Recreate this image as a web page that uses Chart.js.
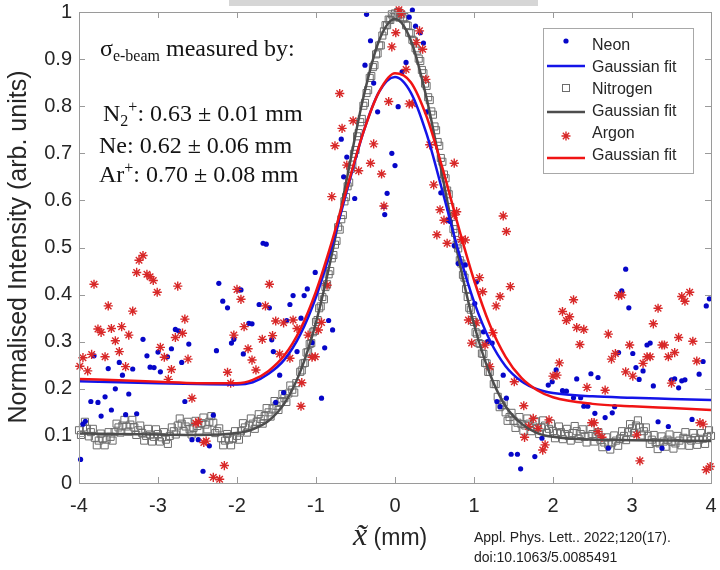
<!DOCTYPE html>
<html>
<head>
<meta charset="utf-8">
<script src="https://cdn.jsdelivr.net/npm/chart.js@4.4.1/dist/chart.umd.min.js"></script>
<style>
  html, body { margin: 0; padding: 0; background: #fff; }
  #wrap { position: relative; width: 720px; height: 570px; overflow: hidden; }
  #chart { position: absolute; left: 0; top: 0; }
  .topbar { position: absolute; left: 229px; top: 0; width: 309px; height: 6px; background: #d6d6d6; }
  .serif { position: absolute; font-family: "Liberation Serif", "Times New Roman", serif; font-size: 24px; line-height: 26px; color: #141414; white-space: nowrap; }
  .serif sub, .serif sup { font-size: 16px; line-height: 0; }
  .serif sub { vertical-align: -5px; }
  .serif sup { vertical-align: 9px; }
  .ytitle { position: absolute; left: -183px; top: 233px; width: 400px; height: 28px; line-height: 28px; text-align: center;
            font-family: "Liberation Sans", Arial, sans-serif; font-size: 25px; color: #262626; transform: rotate(-90deg); white-space: nowrap; }
  .xtitle { position: absolute; left: 353px; top: 516px; font-family: "Liberation Sans", Arial, sans-serif; font-size: 23px; color: #262626; white-space: nowrap; }
  .xtitle i { font-family: "Liberation Serif", "Times New Roman", serif; font-size: 32px; }
  .cite { position: absolute; left: 474px; top: 527px; font-family: "Liberation Sans", Arial, sans-serif; font-size: 14px; line-height: 20px; color: #222; white-space: nowrap; }
</style>
</head>
<body>
<div id="wrap">
  <canvas id="chart" width="720" height="570"></canvas>
  <div class="topbar"></div>
  <div class="serif" style="left:100px; top:35px;">&sigma;<sub>e-beam</sub> measured by:</div>
  <div class="serif" style="left:103px; top:100px;">N<sub>2</sub><sup>+</sup>: 0.63 &plusmn; 0.01 mm</div>
  <div class="serif" style="left:99px; top:132px;">Ne: 0.62 &plusmn; 0.06 mm</div>
  <div class="serif" style="left:99px; top:161px;">Ar<sup>+</sup>: 0.70 &plusmn; 0.08 mm</div>
  <div class="ytitle">Normalised Intensity (arb. units)</div>
  <div class="xtitle"><i>x&#771;</i> (mm)</div>
  <div class="cite">Appl. Phys. Lett.. 2022;120(17).<br>doi:10.1063/5.0085491</div>
</div>
<script>
  // ---- axis ticks ----
  const xTicks = [-4, -3, -2, -1, 0, 1, 2, 3, 4];
  const xTickLabels = ['-4', '-3', '-2', '-1', '0', '1', '2', '3', '4'];
  const yTicks = [0, 0.1, 0.2, 0.3, 0.4, 0.5, 0.6, 0.7, 0.8, 0.9, 1];
  const yTickLabels = ['0', '0.1', '0.2', '0.3', '0.4', '0.5', '0.6', '0.7', '0.8', '0.9', '1'];

  // ---- Neon (blue dots) ----
  const neonX = [
    -3.98, -3.95, -3.92, -3.85, -3.81, -3.76, -3.72, -3.67, -3.63, -3.59,
    -3.54, -3.49, -3.45, -3.41, -3.37, -3.32, -3.27, -3.19, -3.14, -3.10,
    -3.05, -3.00, -2.97, -2.88, -2.83, -2.78, -2.74, -2.70, -2.66, -2.61,
    -2.57, -2.49, -2.43, -2.35, -2.30, -2.26, -2.23, -2.18, -2.12, -2.07,
    -2.04, -1.98, -1.95, -1.92, -1.85, -1.81, -1.72, -1.67, -1.63, -1.59,
    -1.56, -1.54, -1.51, -1.46, -1.41, -1.37, -1.33, -1.29, -1.24, -1.19,
    -1.15, -1.11, -1.05, -1.01, -0.93, -0.89, -0.84, -0.79, -0.68, -0.65,
    -0.61, -0.51, -0.38, -0.36, -0.31, -0.27, -0.22, -0.14, -0.13, -0.10,
    -0.04, 0.00, 0.04, 0.09, 0.14, 0.18, 0.22, 0.26, 0.32, 0.36,
    0.40, 0.58, 0.66, 0.70, 0.75, 0.80, 0.89, 1.01, 1.03, 1.12,
    1.17, 1.23, 1.29, 1.33, 1.37, 1.41, 1.47, 1.55, 1.59, 1.77,
    1.86, 1.94, 1.99, 2.04, 2.12, 2.17, 2.26, 2.30, 2.35, 2.39,
    2.44, 2.48, 2.53, 2.57, 2.66, 2.70, 2.75, 2.78, 2.83, 2.87,
    2.92, 2.96, 3.01, 3.05, 3.09, 3.14, 3.19, 3.23, 3.27, 3.33,
    3.38, 3.46, 3.50, 3.54, 3.59, 3.63, 3.67, 3.76, 3.85, 3.90,
    3.94, 3.98
  ];
  const neonY = [
    0.050, 0.125, 0.131, 0.173, 0.270, 0.171, 0.142, 0.183, 0.243, 0.155,
    0.200, 0.256, 0.229, 0.145, 0.189, 0.242, 0.147, 0.305, 0.270, 0.246,
    0.245, 0.278, 0.236, 0.268, 0.285, 0.326, 0.323, 0.256, 0.173, 0.295,
    0.092, 0.092, 0.025, 0.079, 0.144, 0.281, 0.424, 0.386, 0.372, 0.297,
    0.305, 0.410, 0.410, 0.274, 0.339, 0.338, 0.379, 0.509, 0.507, 0.372,
    0.304, 0.279, 0.171, 0.229, 0.192, 0.345, 0.379, 0.398, 0.279, 0.350,
    0.398, 0.412, 0.298, 0.447, 0.180, 0.287, 0.345, 0.325, 0.730, 0.650,
    0.692, 0.604, 0.887, 0.995, 0.939, 0.849, 0.788, 0.587, 0.570, 0.615,
    0.700, 0.674, 0.799, 0.873, 0.893, 0.989, 1.004, 0.970, 0.956, 0.934,
    0.788, 0.616, 0.558, 0.555, 0.504, 0.466, 0.463, 0.381, 0.427, 0.321,
    0.300, 0.297, 0.173, 0.162, 0.229, 0.180, 0.061, 0.061, 0.030, 0.056,
    0.095, 0.208, 0.215, 0.240, 0.196, 0.195, 0.181, 0.221, 0.181, 0.163,
    0.163, 0.232, 0.148, 0.224, 0.139, 0.074, 0.149, 0.162, 0.277, 0.408,
    0.454, 0.372, 0.275, 0.245, 0.220, 0.238, 0.293, 0.297, 0.206, 0.130,
    0.074, 0.120, 0.219, 0.221, 0.202, 0.217, 0.219, 0.135, 0.231, 0.258,
    0.376, 0.391
  ];

  // ---- Nitrogen (grey squares) ----
  const nitrogenX = [
    -4.00, -3.95, -3.90, -3.85, -3.80, -3.75, -3.70, -3.65, -3.60, -3.55,
    -3.50, -3.45, -3.40, -3.35, -3.30, -3.25, -3.20, -3.15, -3.10, -3.05,
    -3.00, -2.95, -2.90, -2.85, -2.80, -2.75, -2.70, -2.65, -2.60, -2.55,
    -2.50, -2.45, -2.40, -2.35, -2.30, -2.25, -2.20, -2.15, -2.10, -2.05,
    -2.00, -1.95, -1.90, -1.85, -1.80, -1.75, -1.70, -1.65, -1.60, -1.55,
    -1.50, -1.45, -1.40, -1.35, -1.30, -1.25,
    -1.20, -1.18, -1.16, -1.14, -1.12, -1.10, -1.08, -1.06, -1.04, -1.02,
    -1.00, -0.98, -0.96, -0.94, -0.92, -0.90, -0.88, -0.86, -0.84, -0.82,
    -0.80, -0.78, -0.76, -0.74, -0.72, -0.70, -0.68, -0.66, -0.64, -0.62,
    -0.60, -0.58, -0.56, -0.54, -0.52, -0.50, -0.48, -0.46, -0.44, -0.42,
    -0.40, -0.38, -0.36, -0.34, -0.32, -0.30, -0.28, -0.26, -0.24, -0.22,
    -0.20, -0.18, -0.16, -0.14, -0.12, -0.10, -0.08, -0.06, -0.04, -0.02,
    0.00, 0.02, 0.04, 0.06, 0.08, 0.10, 0.12, 0.14, 0.16, 0.18,
    0.20, 0.22, 0.24, 0.26, 0.28, 0.30, 0.32, 0.34, 0.36, 0.38,
    0.40, 0.42, 0.44, 0.46, 0.48, 0.50, 0.52, 0.54, 0.56, 0.58,
    0.60, 0.62, 0.64, 0.66, 0.68, 0.70, 0.72, 0.74, 0.76, 0.78,
    0.80, 0.82, 0.84, 0.86, 0.88, 0.90, 0.92, 0.94, 0.96, 0.98,
    1.00, 1.02, 1.04, 1.06, 1.08, 1.10, 1.12, 1.14, 1.16, 1.18,
    1.20,
    1.25, 1.30, 1.35, 1.40, 1.45,
    1.50, 1.55, 1.60, 1.65, 1.70, 1.75, 1.80, 1.85, 1.90, 1.95,
    2.00, 2.05, 2.10, 2.15, 2.20, 2.25, 2.30, 2.35, 2.40, 2.45,
    2.50, 2.55, 2.60, 2.65, 2.70, 2.75, 2.80, 2.85, 2.90, 2.95,
    3.00, 3.05, 3.10, 3.15, 3.20, 3.25, 3.30, 3.35, 3.40, 3.45,
    3.50, 3.55, 3.60, 3.65, 3.70, 3.75, 3.80, 3.85, 3.90, 3.95,
    4.00,
    // in-between samples of the wings (the band is two squares thick there)
    -3.975, -3.925, -3.875, -3.825, -3.775, -3.725, -3.675, -3.625, -3.575, -3.525,
    -3.475, -3.425, -3.375, -3.325, -3.275, -3.225, -3.175, -3.125, -3.075, -3.025,
    -2.975, -2.925, -2.875, -2.825, -2.775, -2.725, -2.675, -2.625, -2.575, -2.525,
    -2.475, -2.425, -2.375, -2.325, -2.275, -2.225, -2.175, -2.125, -2.075, -2.025,
    -1.975, -1.925, -1.875, -1.825, -1.775, -1.725, -1.675, -1.625, -1.575, -1.525,
    -1.475, -1.425, -1.375, -1.325, -1.275,
    1.275, 1.325, 1.375, 1.425, 1.475, 1.525, 1.575, 1.625, 1.675, 1.725,
    1.775, 1.825, 1.875, 1.925, 1.975, 2.025, 2.075, 2.125, 2.175, 2.225,
    2.275, 2.325, 2.375, 2.425, 2.475, 2.525, 2.575, 2.625, 2.675, 2.725,
    2.775, 2.825, 2.875, 2.925, 2.975, 3.025, 3.075, 3.125, 3.175, 3.225,
    3.275, 3.325, 3.375, 3.425, 3.475, 3.525, 3.575, 3.625, 3.675, 3.725,
    3.775, 3.825, 3.875, 3.925, 3.975
  ];
  const nitrogenY = [
    0.112, 0.118, 0.115, 0.108, 0.096, 0.090, 0.094, 0.092, 0.098, 0.108,
    0.118, 0.122, 0.120, 0.124, 0.118, 0.112, 0.106, 0.100, 0.103, 0.098,
    0.104, 0.097, 0.092, 0.100, 0.110, 0.122, 0.126, 0.120, 0.114, 0.117,
    0.121, 0.127, 0.124, 0.130, 0.128, 0.110, 0.095, 0.090, 0.092, 0.094,
    0.100, 0.110, 0.118, 0.122, 0.126, 0.130, 0.136, 0.142, 0.150, 0.158,
    0.164, 0.172, 0.180, 0.190, 0.198, 0.212,
    0.236, 0.239, 0.254, 0.255, 0.277, 0.278, 0.295, 0.297, 0.320, 0.323,
    0.342, 0.346, 0.371, 0.375, 0.395, 0.390, 0.416, 0.422, 0.443, 0.450,
    0.477, 0.484, 0.506, 0.514, 0.543, 0.538, 0.560, 0.569, 0.598, 0.607,
    0.630, 0.638, 0.667, 0.676, 0.699, 0.707, 0.736, 0.743, 0.766, 0.773,
    0.801, 0.807, 0.828, 0.834, 0.860, 0.864, 0.883, 0.887, 0.910, 0.912,
    0.929, 0.929, 0.950, 0.959, 0.972, 0.972, 0.984, 0.983, 0.995, 0.989,
    0.997, 0.992, 1.000, 0.988, 0.995, 0.986, 0.989, 0.972, 0.971, 0.956,
    0.955, 0.941, 0.938, 0.923, 0.918, 0.901, 0.896, 0.877, 0.870, 0.848,
    0.843, 0.819, 0.813, 0.789, 0.782, 0.757, 0.749, 0.724, 0.716, 0.690,
    0.682, 0.655, 0.647, 0.621, 0.613, 0.586, 0.565, 0.539, 0.531, 0.506,
    0.498, 0.473, 0.466, 0.442, 0.436, 0.412, 0.395, 0.372, 0.368, 0.346,
    0.342, 0.320, 0.317, 0.297, 0.295, 0.275, 0.274, 0.255, 0.254, 0.236,
    0.236,
    0.210, 0.183, 0.165, 0.150, 0.140,
    0.132, 0.128, 0.125, 0.122, 0.126, 0.120, 0.116, 0.118, 0.122, 0.115,
    0.110, 0.106, 0.108, 0.104, 0.100, 0.106, 0.110, 0.104, 0.098, 0.100,
    0.104, 0.098, 0.092, 0.086, 0.082, 0.086, 0.090, 0.094, 0.100, 0.108,
    0.116, 0.122, 0.118, 0.110, 0.100, 0.092, 0.086, 0.084, 0.088, 0.092,
    0.088, 0.084, 0.090, 0.096, 0.094, 0.090, 0.096, 0.092, 0.094, 0.098,
    0.100,
    0.102, 0.130, 0.099, 0.115, 0.080, 0.105, 0.080, 0.108, 0.090, 0.126,
    0.107, 0.134, 0.109, 0.134, 0.102, 0.122, 0.090, 0.115, 0.088, 0.114,
    0.088, 0.108, 0.083, 0.118, 0.103, 0.137, 0.110, 0.130, 0.103, 0.132,
    0.111, 0.139, 0.114, 0.142, 0.106, 0.116, 0.080, 0.104, 0.080, 0.110,
    0.092, 0.127, 0.107, 0.137, 0.115, 0.146, 0.126, 0.159, 0.141, 0.174,
    0.155, 0.189, 0.172, 0.207, 0.192,
    0.210, 0.161, 0.171, 0.132, 0.149, 0.117, 0.140, 0.111, 0.137, 0.110,
    0.131, 0.104, 0.133, 0.106, 0.126, 0.095, 0.120, 0.093, 0.115, 0.090,
    0.121, 0.094, 0.114, 0.086, 0.115, 0.088, 0.108, 0.076, 0.097, 0.071,
    0.101, 0.079, 0.110, 0.091, 0.125, 0.106, 0.133, 0.101, 0.118, 0.083,
    0.102, 0.072, 0.099, 0.077, 0.103, 0.073, 0.100, 0.080, 0.108, 0.079,
    0.106, 0.081, 0.106, 0.083, 0.112
  ];

  // ---- Argon (red asterisks) ----
  const argonX = [
    -3.99, -3.95, -3.89, -3.84, -3.81, -3.76, -3.72, -3.67, -3.63, -3.59,
    -3.54, -3.49, -3.46, -3.41, -3.37, -3.32, -3.27, -3.24, -3.19, -3.14,
    -3.10, -3.06, -3.01, -2.97, -2.92, -2.87, -2.83, -2.78, -2.75, -2.69,
    -2.66, -2.62, -2.57, -2.52, -2.49, -2.42, -2.39, -2.30, -2.22, -2.16,
    -2.12, -2.08, -2.04, -2.00, -1.95, -1.91, -1.86, -1.81, -1.76, -1.68,
    -1.64, -1.59, -1.55, -1.51, -1.46, -1.41, -1.33, -1.29, -1.24, -1.19,
    -1.18, -1.10, -1.05, -1.01, -0.97, -0.93, -0.86, -0.80, -0.76, -0.70,
    -0.67, -0.61, -0.53, -0.46, -0.31, -0.27, -0.17, -0.14, -0.08, -0.04,
    0.01, 0.05, 0.08, 0.14, 0.18, 0.22, 0.27, 0.31, 0.35, 0.39,
    0.44, 0.49, 0.53, 0.57, 0.62, 0.66, 0.75, 0.75, 0.78, 0.84,
    0.89, 0.93, 0.97, 1.03, 1.07, 1.11, 1.14, 1.20, 1.24, 1.28,
    1.33, 1.37, 1.41, 1.46, 1.51, 1.63, 1.64, 1.69, 1.75, 1.81,
    1.87, 1.90, 1.95, 2.00, 2.05, 2.08, 2.12, 2.17, 2.21, 2.26,
    2.30, 2.34, 2.39, 2.43, 2.49, 2.52, 2.57, 2.62, 2.66, 2.70,
    2.74, 2.79, 2.83, 2.87, 2.92, 2.97, 3.01, 3.06, 3.10, 3.14,
    3.19, 3.23, 3.27, 3.33, 3.38, 3.41, 3.46, 3.50, 3.54, 3.59,
    3.63, 3.67, 3.73, 3.77, 3.82, 3.86, 3.90, 3.94, 3.99
  ];
  const argonY = [
    0.248, 0.266, 0.238, 0.273, 0.422, 0.327, 0.320, 0.268, 0.376, 0.328,
    0.302, 0.279, 0.332, 0.247, 0.314, 0.365, 0.447, 0.473, 0.483, 0.443,
    0.438, 0.430, 0.405, 0.288, 0.267, 0.220, 0.241, 0.309, 0.418, 0.318,
    0.348, 0.263, 0.180, 0.127, 0.130, 0.086, 0.089, 0.012, 0.008, 0.037,
    0.235, 0.212, 0.314, 0.411, 0.390, 0.332, 0.285, 0.261, 0.240, 0.305,
    0.376, 0.422, 0.313, 0.344, 0.274, 0.340, 0.265, 0.346, 0.328, 0.163,
    0.213, 0.314, 0.267, 0.268, 0.325, 0.341, 0.420, 0.608, 0.716, 0.827,
    0.753, 0.675, 0.769, 0.663, 0.679, 0.720, 0.656, 0.588, 0.810, 0.926,
    0.956, 1.005, 0.996, 0.878, 0.805, 0.805, 0.935, 0.960, 0.921, 0.857,
    0.718, 0.633, 0.527, 0.580, 0.558, 0.509, 0.679, 0.569, 0.576, 0.517,
    0.516, 0.346, 0.297, 0.340, 0.436, 0.406, 0.293, 0.247, 0.319, 0.376,
    0.396, 0.567, 0.534, 0.417, 0.215, 0.164, 0.097, 0.120, 0.137, 0.116,
    0.070, 0.081, 0.134, 0.227, 0.229, 0.255, 0.364, 0.345, 0.353, 0.389,
    0.330, 0.294, 0.326, 0.203, 0.128, 0.128, 0.109, 0.097, 0.197, 0.316,
    0.263, 0.275, 0.398, 0.399, 0.236, 0.293, 0.227, 0.102, 0.047, 0.254,
    0.268, 0.268, 0.338, 0.371, 0.293, 0.293, 0.268, 0.212, 0.277, 0.309,
    0.396, 0.386, 0.405, 0.301, 0.259, 0.128, 0.125, 0.028, 0.035
  ];

  // ---- Gaussian fits ----
  const fitX = [-4, -3.5, -3, -2.5, -2, -1.8, -1.6, -1.4, -1.2, -1, -0.8, -0.6, -0.4, -0.2, 0,
                0.2, 0.4, 0.6, 0.8, 1, 1.2, 1.4, 1.6, 1.8, 2, 2.5, 3, 3.5, 4];
  const neonFit = [0.216, 0.214, 0.212, 0.210, 0.209, 0.214, 0.232, 0.262, 0.315, 0.395, 0.502, 0.626, 0.745, 0.831, 0.862,
                   0.829, 0.741, 0.620, 0.494, 0.385, 0.303, 0.248, 0.216, 0.199, 0.191, 0.184, 0.181, 0.1785, 0.176];
  const nitrogenFit = [0.105, 0.104, 0.103, 0.102, 0.106, 0.114, 0.132, 0.169, 0.236, 0.341, 0.485, 0.654, 0.819, 0.940, 0.985,
                       0.940, 0.817, 0.652, 0.481, 0.337, 0.232, 0.163, 0.126, 0.106, 0.098, 0.092, 0.091, 0.090, 0.089];
  const argonFit = [0.221, 0.218, 0.215, 0.212, 0.212, 0.219, 0.238, 0.271, 0.326, 0.407, 0.512, 0.631, 0.745, 0.831, 0.870,
                    0.851, 0.778, 0.669, 0.546, 0.431, 0.336, 0.268, 0.223, 0.197, 0.182, 0.168, 0.163, 0.159, 0.155];

  const COLORS = {
    neon: '#0606c8',
    neonFit: '#1414e8',
    nitrogen: '#6c6c6c',
    nitrogenFit: '#4d4d4d',
    argon: '#d82828',
    argonFit: '#f01414',
    axis: '#9a9a9a',
    text: '#262626'
  };
  const tickFont = { family: "'Liberation Sans', Arial, sans-serif", size: 20 };

  const pts = (xs, ys) => xs.map((x, i) => ({ x: x, y: ys[i] }));

  const legendRows = [
    { label: 'Neon', kind: 'dot', color: COLORS.neon, sy: 41 },
    { label: 'Gaussian fit', kind: 'line', color: COLORS.neonFit, sy: 66 },
    { label: 'Nitrogen', kind: 'square', color: COLORS.nitrogen, sy: 88 },
    { label: 'Gaussian fit', kind: 'line', color: COLORS.nitrogenFit, sy: 112 },
    { label: 'Argon', kind: 'star', color: COLORS.argon, sy: 136 },
    { label: 'Gaussian fit', kind: 'line', color: COLORS.argonFit, sy: 158 }
  ];

  function drawStar(ctx, x, y, r) {
    ctx.beginPath();
    for (let k = 0; k < 4; k++) {
      const a = k * Math.PI / 4;
      ctx.moveTo(x - r * Math.cos(a), y - r * Math.sin(a));
      ctx.lineTo(x + r * Math.cos(a), y + r * Math.sin(a));
    }
    ctx.stroke();
  }

  // box, inward ticks and legend drawn on top
  const framePlugin = {
    id: 'frame',
    afterDraw(chart) {
      const ctx = chart.ctx;
      const a = chart.chartArea;
      const xs = chart.scales.x, ys = chart.scales.y;
      ctx.save();
      ctx.strokeStyle = COLORS.axis;
      ctx.lineWidth = 1;
      ctx.strokeRect(a.left + 0.5, a.top + 0.5, a.right - a.left, a.bottom - a.top);
      ctx.beginPath();
      xTicks.forEach(v => {
        const px = Math.round(xs.getPixelForValue(v)) + 0.5;
        ctx.moveTo(px, a.bottom); ctx.lineTo(px, a.bottom - 6);
        ctx.moveTo(px, a.top); ctx.lineTo(px, a.top + 6);
      });
      yTicks.forEach(v => {
        const py = Math.round(ys.getPixelForValue(v)) + 0.5;
        ctx.moveTo(a.left, py); ctx.lineTo(a.left + 6, py);
        ctx.moveTo(a.right, py); ctx.lineTo(a.right - 6, py);
      });
      ctx.stroke();

      // legend
      const bx = 543, by = 28, bw = 150, bh = 145;
      ctx.fillStyle = '#fff';
      ctx.fillRect(bx, by, bw, bh);
      ctx.strokeStyle = '#a8a8a8';
      ctx.strokeRect(bx + 0.5, by + 0.5, bw, bh);
      ctx.font = "16px 'Liberation Sans', Arial, sans-serif";
      ctx.textBaseline = 'middle';
      legendRows.forEach((row, i) => {
        const ty = 46 + i * 22;
        const sx = 566, sy = row.sy;
        ctx.fillStyle = row.color;
        ctx.strokeStyle = row.color;
        if (row.kind === 'dot') {
          ctx.beginPath(); ctx.arc(sx, sy, 2.6, 0, Math.PI * 2); ctx.fill();
        } else if (row.kind === 'line') {
          ctx.lineWidth = 2.5;
          ctx.beginPath(); ctx.moveTo(547, sy); ctx.lineTo(585, sy); ctx.stroke();
        } else if (row.kind === 'square') {
          ctx.lineWidth = 1;
          ctx.strokeRect(sx - 3.5, sy - 3.5, 7, 7);
        } else {
          ctx.lineWidth = 1.4;
          drawStar(ctx, sx, sy, 4.5);
        }
        ctx.fillStyle = COLORS.text;
        ctx.fillText(row.label, 592, ty);
      });
      ctx.restore();
    }
  };

  // keep the plot box exactly where the figure has it
  const noPad = (s) => { s.paddingLeft = 0; s.paddingRight = 0; s.paddingTop = 0; s.paddingBottom = 0; };

  new Chart(document.getElementById('chart').getContext('2d'), {
    type: 'scatter',
    data: {
      datasets: [
        {
          label: 'Gaussian fit (Argon)', data: pts(fitX, argonFit), showLine: true,
          borderColor: COLORS.argonFit, borderWidth: 2.5, pointRadius: 0,
          cubicInterpolationMode: 'monotone', order: 0
        },
        {
          label: 'Gaussian fit (Neon)', data: pts(fitX, neonFit), showLine: true,
          borderColor: COLORS.neonFit, borderWidth: 2.5, pointRadius: 0,
          cubicInterpolationMode: 'monotone', order: 1
        },
        {
          label: 'Gaussian fit (Nitrogen)', data: pts(fitX, nitrogenFit), showLine: true,
          borderColor: COLORS.nitrogenFit, borderWidth: 2.5, pointRadius: 0,
          cubicInterpolationMode: 'monotone', order: 2
        },
        {
          label: 'Argon', data: pts(argonX, argonY), pointStyle: 'star', pointRadius: 4.6,
          borderColor: COLORS.argon, borderWidth: 1.4, backgroundColor: COLORS.argon, clip: 8, order: 3
        },
        {
          label: 'Neon', data: pts(neonX, neonY), pointStyle: 'circle', pointRadius: 2.6,
          backgroundColor: COLORS.neon, borderWidth: 0, clip: 8, order: 4
        },
        {
          label: 'Nitrogen', data: pts(nitrogenX, nitrogenY), pointStyle: 'rect', pointRadius: 5,
          borderColor: COLORS.nitrogen, borderWidth: 1, backgroundColor: 'rgba(0,0,0,0)', clip: 8, order: 5
        }
      ]
    },
    options: {
      responsive: false,
      animation: false,
      events: [],
      layout: { padding: { top: 12, right: 9, left: 0, bottom: 0 } },
      plugins: { legend: { display: false }, tooltip: { enabled: false } },
      scales: {
        x: {
          type: 'linear', min: -4, max: 4,
          grid: { display: false, drawTicks: false },
          border: { display: false },
          afterBuildTicks: (s) => { s.ticks = xTicks.map(v => ({ value: v })); },
          afterFit: (s) => { s.height = 87; noPad(s); },
          ticks: {
            autoSkip: false, maxRotation: 0, padding: 11, color: COLORS.text, font: tickFont,
            callback: (v, i) => xTickLabels[i]
          }
        },
        y: {
          type: 'linear', min: 0, max: 1,
          grid: { display: false, drawTicks: false },
          border: { display: false },
          afterBuildTicks: (s) => { s.ticks = yTicks.map(v => ({ value: v })); },
          afterFit: (s) => { s.width = 79; noPad(s); },
          ticks: {
            autoSkip: false, padding: 7, color: COLORS.text, font: tickFont,
            callback: (v, i) => yTickLabels[i]
          }
        }
      }
    },
    plugins: [framePlugin]
  });
</script>
</body>
</html>
